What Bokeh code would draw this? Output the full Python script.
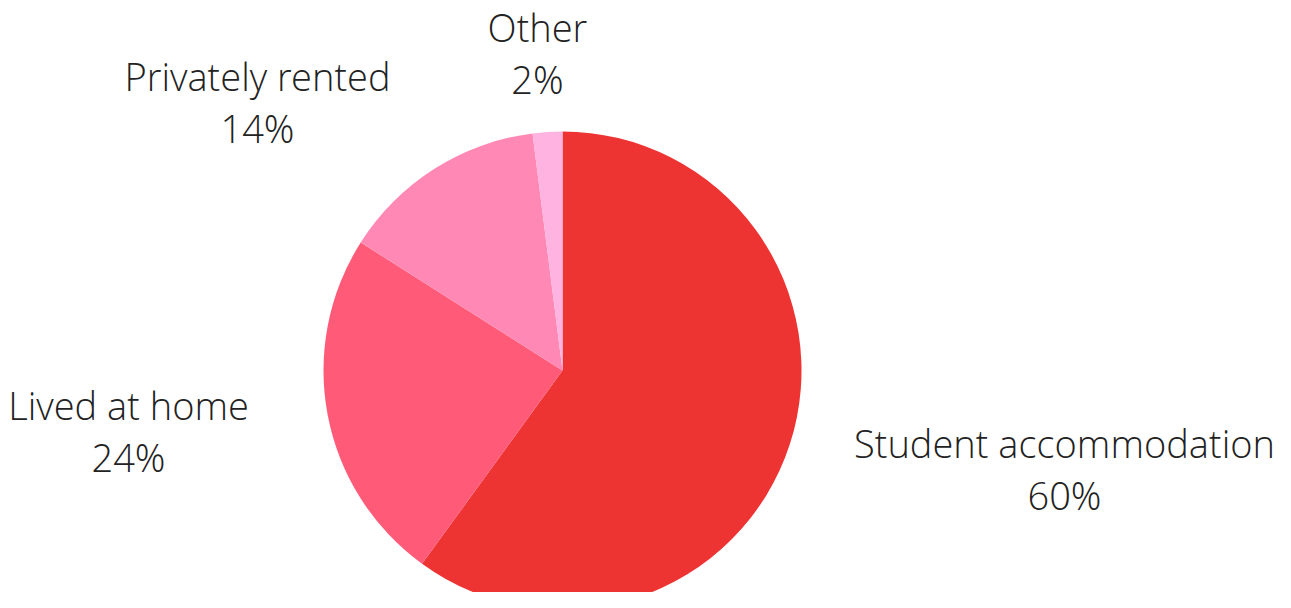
import math
from bokeh.plotting import figure
from bokeh.models import ColumnDataSource, Range1d
from bokeh.core.properties import value
from bokeh.embed import file_html
from bokeh.resources import INLINE

categories = ["Student accommodation", "Lived at home", "Privately rented", "Other"]
shares = [60, 24, 14, 2]
pct_labels = ["60%", "24%", "14%", "2%"]
colors = ["#EE3333", "#FF5A78", "#FF88B4", "#FFB3E0"]

W, H = 1275, 592
p = figure(width=W, height=H, output_backend="svg", toolbar_location=None,
           x_range=Range1d(0, W), y_range=Range1d(0, H),
           min_border=0, outline_line_color=None)
p.axis.visible = False
p.grid.visible = False
p.background_fill_color = "white"
p.border_fill_color = "white"

# pie geometry (pixels; data units are 1:1 with screen pixels)
cx, cy, r = 562, H - 370, 239

total = sum(shares)
starts, ends = [], []
a = math.pi / 2
for s in shares:
    starts.append(a)
    a = a - s / total * 2 * math.pi
    ends.append(a)

src = ColumnDataSource(dict(cat=categories, start=starts, end=ends, color=colors))
p.wedge(x=cx, y=cy, radius=r, start_angle="start", end_angle="end",
        direction="clock", fill_color="color", line_color=None, source=src)

# label anchors (screen coords of the label block centre)
label_pos = [(1064, 468), (128, 430), (257, 101), (537, 52)]
gap = 26
lx = [x for x, _ in label_pos]
ly1 = [H - y + gap for _, y in label_pos]
ly2 = [H - y - gap for _, y in label_pos]
lsrc = ColumnDataSource(dict(x=lx, y1=ly1, y2=ly2, name=categories, pct=pct_labels))
font = value("Open Sans Light")
for ycol, tcol in (("y1", "name"), ("y2", "pct")):
    p.text(x="x", y=ycol, text=tcol, source=lsrc, text_font=font,
           text_font_size="38px", text_color="#222222",
           text_align="center", text_baseline="middle")

open("out.html", "w").write(file_html(p, INLINE))
